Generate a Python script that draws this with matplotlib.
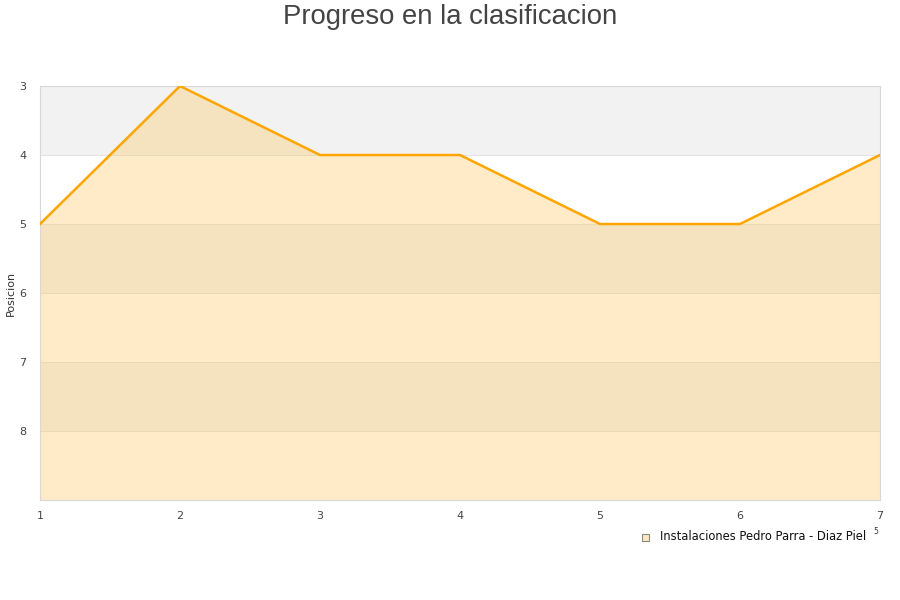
import matplotlib
matplotlib.use("Agg")
import matplotlib.pyplot as plt

# datos
jornadas = [1, 2, 3, 4, 5, 6, 7]
posicion = [5, 3, 4, 4, 5, 5, 4]
serie = "Instalaciones Pedro Parra - Diaz Piel"
y_ticks = [3, 4, 5, 6, 7, 8]

fig = plt.figure(figsize=(9, 6), dpi=100)
ax = fig.add_axes([40 / 900, 100 / 600, 840 / 900, 414 / 600])

# bandas alternas
for y0 in [3, 5, 7]:
    ax.axhspan(y0, y0 + 1, color="#f2f2f2", zorder=0, lw=0)
for y in [4, 5, 6, 7, 8]:
    ax.axhline(y, color="#e3e3e3", lw=0.8, zorder=1)

ax.fill_between(jornadas, posicion, 9, color="#ffc048", alpha=0.3, lw=0, zorder=2)
ax.plot(jornadas, posicion, color="#ffa500", lw=1.8, zorder=3)

ax.set_xlim(1, 7)
ax.set_ylim(9, 3)
ax.set_yticks(y_ticks)
ax.set_xticks(jornadas)
ax.tick_params(length=0, labelsize=8, colors="#444444", pad=8)
ax.tick_params(axis="y", pad=10)
for s in ax.spines.values():
    s.set_color("#d8d8d8")
    s.set_linewidth(0.8)

fig.text(11 / 900, 1 - 293 / 600, "Posicion", rotation=90, ha="center",
         va="center", fontsize=8, color="#333333")

fig.text(0.5, 1 - 17 / 600, "Progreso en la clasificacion", ha="center",
         va="center", fontsize=19.8, color="#444444", family="Liberation Sans")

# leyenda
fig.patches.append(plt.Rectangle((642 / 900, 1 - 541 / 600), 7 / 900, 7 / 600,
                                 transform=fig.transFigure, facecolor="#ffe7bd",
                                 edgecolor="#888888", lw=0.8))
fig.text(660 / 900, 1 - 537 / 600, serie, ha="left", va="center", fontsize=8.3,
         color="#111111")
fig.text(876 / 900, 1 - 532 / 600, "5", ha="center", va="center", fontsize=5.5,
         color="#333333")

fig.savefig("out.png", dpi=100)
